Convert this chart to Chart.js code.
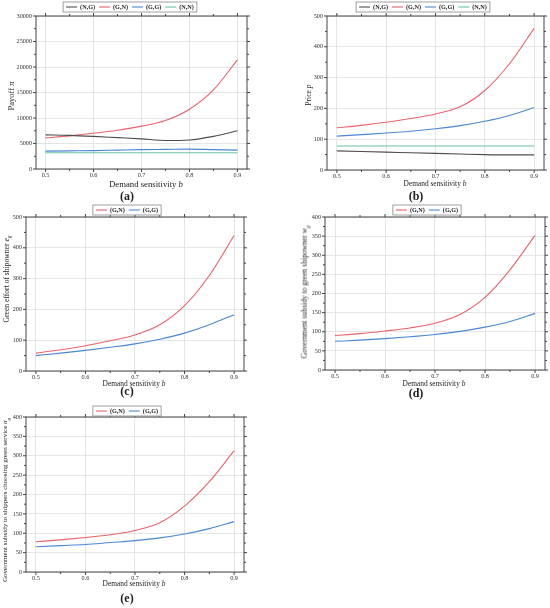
<!DOCTYPE html>
<html>
<head>
<meta charset="utf-8">
<script src="https://cdn.jsdelivr.net/npm/chart.js@4.4.0/dist/chart.umd.min.js"></script>
<style>
  body { margin:0; background:#fff; }
  #page { position:relative; width:550px; height:608px; overflow:hidden; font-family:"Liberation Serif", serif; color:#222; }
  canvas { position:absolute; }
  .xt { position:absolute; transform:translate(-50%,-50%); white-space:nowrap; font-size:7.4px; }
  .yt { position:absolute; transform:translate(-50%,-50%) rotate(-90deg); white-space:nowrap; font-size:7.6px; }
  .tag { position:absolute; transform:translate(-50%,-50%); font-size:12px; font-weight:bold; }
  sub { font-size:70%; }
</style>
</head>
<body>
<div id="page">
  <canvas id="cA" width="275" height="200" style="left:0;top:0"></canvas>
  <canvas id="cB" width="275" height="200" style="left:275px;top:0"></canvas>
  <canvas id="cC" width="275" height="200" style="left:0;top:200px"></canvas>
  <canvas id="cD" width="275" height="200" style="left:275px;top:200px"></canvas>
  <canvas id="cE" width="275" height="208" style="left:0;top:400px"></canvas>

  <div class="xt" style="left:146px;top:184px;font-size:8.7px">Demand sensitivity <i>b</i></div>
  <div class="xt" style="left:435px;top:183px">Demand sensitivity <i>b</i></div>
  <div class="xt" style="left:134px;top:383px">Demand sensitivity <i>b</i></div>
  <div class="xt" style="left:434px;top:383px">Demand sensitivity <i>b</i></div>
  <div class="xt" style="left:134px;top:583px">Demand sensitivity <i>b</i></div>

  <div class="yt" style="left:11px;top:96px;font-size:8.5px">Payoff <i>π</i></div>
  <div class="yt" style="left:308px;top:95px">Price <i>p</i></div>
  <div class="yt" style="left:7px;top:279px">Green effort of shipowner <i>e<sub>g</sub></i></div>
  <div class="yt" style="left:305px;top:292px">Government subsidy to green shipowner <i>w<sub>g</sub></i></div>
  <div class="yt" style="left:6px;top:500px;font-size:7px">Government subsidy to shippers choosing green service <i>σ<sub>g</sub></i></div>

  <div class="tag" style="left:127px;top:196px">(a)</div>
  <div class="tag" style="left:416px;top:196px">(b)</div>
  <div class="tag" style="left:127px;top:391px">(c)</div>
  <div class="tag" style="left:416px;top:393px">(d)</div>
  <div class="tag" style="left:127px;top:598px">(e)</div>
</div>
<script>
// demand sensitivity b (x axis)
var bValues = [0.5, 0.55, 0.6, 0.65, 0.7, 0.75, 0.8, 0.85, 0.9];
var xTicks  = [0.5, 0.6, 0.7, 0.8, 0.9];

// (a) payoff
var payoffNG = [6700, 6600, 6400, 6150, 5900, 5600, 5700, 6400, 7500];
var payoffGN = [6100, 6500, 7000, 7600, 8400, 9500, 11700, 15500, 21400];
var payoffGG = [3500, 3550, 3600, 3700, 3800, 3850, 3900, 3800, 3700];
var payoffNN = [3200, 3200, 3200, 3200, 3200, 3200, 3200, 3200, 3200];
var payoffTicks = [0, 5000, 10000, 15000, 20000, 25000, 30000];

// (b) price
var priceNG = [62, 60, 58, 56, 54, 52, 50, 49, 49];
var priceGN = [137, 145, 155, 167, 182, 205, 258, 345, 460];
var priceGG = [110, 115, 120, 126, 134, 144, 158, 177, 203];
var priceNN = [78, 78, 78, 78, 78, 78, 78, 78, 78];
var priceTicks = [0, 100, 200, 300, 400, 500];

// (c) green effort
var effortGN = [58, 69, 82, 98, 117, 150, 212, 310, 440];
var effortGG = [50, 58, 67, 77, 88, 103, 123, 150, 183];
var effortTicks = [0, 100, 200, 300, 400, 500];

// (d) subsidy to green shipowner
var shipSubGN = [90, 95, 102, 110, 122, 145, 190, 262, 352];
var shipSubGG = [75, 78, 82, 87, 93, 101, 112, 127, 148];
// (e) subsidy to shippers
var shipperSubGN = [78, 83, 89, 96, 107, 127, 170, 233, 313];
var shipperSubGG = [65, 68, 71, 76, 81, 88, 98, 112, 130];
var subsidyTicks = [0, 50, 100, 150, 200, 250, 300, 350, 400];

var colNG = "#4d4d4d", colGN = "#e8636b", colGG = "#4a87d3", colNN = "#66c4a3";
var serif = "Liberation Serif";

function toPoints(ys) {
    return bValues.map(function(b, i) { return {x: b, y: ys[i]}; });
}

function series(label, ys, color) {
    return { label: label, data: toPoints(ys), borderColor: color, borderWidth: 1.1,
             pointRadius: 0, cubicInterpolationMode: "monotone", fill: false };
}

// frame around the plot + small outward ticks on all four sides
var framePlugin = {
    id: "frame",
    afterDraw: function(chart) {
        var ctx = chart.ctx, a = chart.chartArea;
        var xs = chart.scales.x, ys = chart.scales.y;
        ctx.save();
        ctx.strokeStyle = "#444";
        ctx.lineWidth = 1;
        ctx.strokeRect(a.left, a.top, a.right - a.left, a.bottom - a.top);
        ctx.beginPath();
        var xt = xs.ticks.map(function(t) { return t.value; });
        for (var i = 0; i < xt.length; i++) {
            var px = xs.getPixelForValue(xt[i]);
            ctx.moveTo(px, a.bottom); ctx.lineTo(px, a.bottom + 3);
            ctx.moveTo(px, a.top); ctx.lineTo(px, a.top - 3);
            if (i < xt.length - 1) {
                var mx = xs.getPixelForValue((xt[i] + xt[i + 1]) / 2);
                ctx.moveTo(mx, a.bottom); ctx.lineTo(mx, a.bottom + 2);
                ctx.moveTo(mx, a.top); ctx.lineTo(mx, a.top - 2);
            }
        }
        var yt = ys.ticks.map(function(t) { return t.value; });
        for (var j = 0; j < yt.length; j++) {
            var py = ys.getPixelForValue(yt[j]);
            ctx.moveTo(a.left, py); ctx.lineTo(a.left - 3, py);
            ctx.moveTo(a.right, py); ctx.lineTo(a.right + 3, py);
            if (j < yt.length - 1) {
                var my = ys.getPixelForValue((yt[j] + yt[j + 1]) / 2);
                ctx.moveTo(a.left, my); ctx.lineTo(a.left - 2, my);
                ctx.moveTo(a.right, my); ctx.lineTo(a.right + 2, my);
            }
        }
        ctx.stroke();
        ctx.restore();
    }
};

// boxed legend above the plot, drawn from the datasets
var boxLegendPlugin = {
    id: "boxLegend",
    afterDraw: function(chart, args, opts) {
        var ctx = chart.ctx;
        var sets = chart.data.datasets;
        ctx.save();
        ctx.font = "bold 6.2px " + serif;
        var lineLen = 11, gap = 3, sep = 4, pad = 3;
        var total = pad * 2 - sep;
        var widths = sets.map(function(d) { return ctx.measureText(d.label).width; });
        widths.forEach(function(w) { total += lineLen + gap + w + sep; });
        var x = opts.cx - total / 2, y = opts.y, h = 10;
        ctx.fillStyle = "#fff";
        ctx.fillRect(x, y, total, h);
        ctx.strokeStyle = "#888";
        ctx.lineWidth = 0.8;
        ctx.strokeRect(x, y, total, h);
        var cx = x + pad, cy = y + h / 2;
        ctx.textBaseline = "middle";
        sets.forEach(function(d, i) {
            ctx.strokeStyle = d.borderColor;
            ctx.lineWidth = 1.1;
            ctx.beginPath(); ctx.moveTo(cx, cy); ctx.lineTo(cx + lineLen, cy); ctx.stroke();
            cx += lineLen + gap;
            ctx.fillStyle = "#222";
            ctx.fillText(d.label, cx, cy + 0.5);
            cx += widths[i] + sep;
        });
        ctx.restore();
    }
};

function makeChart(id, datasets, yMax, yTicks, box, legend) {
    // box: chart area inside the canvas {l, t, r, b}
    var canvas = document.getElementById(id);
    return new Chart(canvas, {
        type: "line",
        data: { datasets: datasets },
        options: {
            responsive: false,
            animation: false,
            layout: { padding: { left: 0, top: box.t, right: canvas.width - box.r, bottom: 0 } },
            plugins: { legend: { display: false }, tooltip: { enabled: false }, boxLegend: legend },
            scales: {
                x: {
                    type: "linear", min: 0.48, max: 0.92,
                    afterBuildTicks: function(s) { s.ticks = xTicks.map(function(v) { return {value: v}; }); },
                    afterFit: function(s) { s.height = canvas.height - box.b; },
                    grid: { color: "#dedede", lineWidth: 0.8, drawTicks: false },
                    border: { display: false },
                    ticks: { font: { family: serif, size: 6.2 }, color: "#333", padding: 3,
                             callback: function(v) { return v.toFixed(1); } }
                },
                y: {
                    min: 0, max: yMax,
                    afterBuildTicks: function(s) { s.ticks = yTicks.map(function(v) { return {value: v}; }); },
                    afterFit: function(s) { s.width = box.l; },
                    grid: { color: "#dedede", lineWidth: 0.8, drawTicks: false },
                    border: { display: false },
                    ticks: { font: { family: serif, size: 6.2 }, color: "#333", padding: 4,
                             callback: function(v) { return String(v); } }
                }
            }
        },
        plugins: [framePlugin, boxLegendPlugin]
    });
}

makeChart("cA", [
    series("(N,G)", payoffNG, colNG),
    series("(G,N)", payoffGN, colGN),
    series("(G,G)", payoffGG, colGG),
    series("(N,N)", payoffNN, colNN)
], 30000, payoffTicks, {l: 36, t: 16, r: 247, b: 169}, {cx: 130, y: 2});

makeChart("cB", [
    series("(N,G)", priceNG, colNG),
    series("(G,N)", priceGN, colGN),
    series("(G,G)", priceGG, colGG),
    series("(N,N)", priceNN, colNN)
], 500, priceTicks, {l: 52, t: 16, r: 269, b: 170}, {cx: 148, y: 2});

makeChart("cC", [
    series("(G,N)", effortGN, colGN),
    series("(G,G)", effortGG, colGG)
], 500, effortTicks, {l: 26, t: 17, r: 244, b: 171}, {cx: 127, y: 5});

makeChart("cD", [
    series("(G,N)", shipSubGN, colGN),
    series("(G,G)", shipSubGG, colGG)
], 400, subsidyTicks, {l: 50, t: 17, r: 270, b: 170}, {cx: 152, y: 5});

makeChart("cE", [
    series("(G,N)", shipperSubGN, colGN),
    series("(G,G)", shipperSubGG, colGG)
], 400, subsidyTicks, {l: 26, t: 17, r: 244, b: 172}, {cx: 127, y: 6});
</script>
</body>
</html>
